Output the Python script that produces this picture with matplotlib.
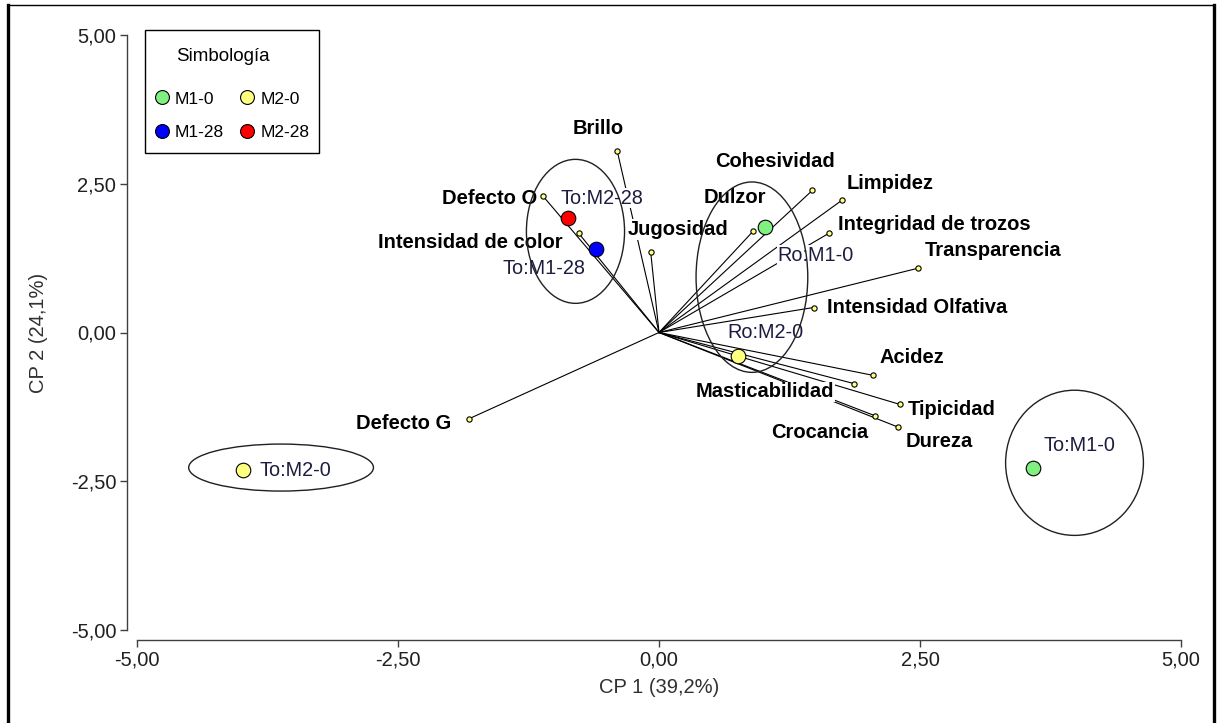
import matplotlib
matplotlib.use("Agg")
import matplotlib.pyplot as plt
from matplotlib.patches import Ellipse, Rectangle
from matplotlib.lines import Line2D
from matplotlib.ticker import FuncFormatter, FixedLocator

plt.rcParams['font.family'] = ['Liberation Sans', 'DejaVu Sans']

# Loadings of the sensory attributes (CP1, CP2)
variables = ["Brillo", "Defecto O", "Intensidad de color", "Jugosidad", "Cohesividad",
             "Limpidez", "Dulzor", "Integridad de trozos", "Transparencia",
             "Intensidad Olfativa", "Acidez", "Masticabilidad", "Tipicidad", "Dureza",
             "Crocancia", "Defecto G"]
var_cp1 = [-0.40, -1.11, -0.77, -0.08, 1.47, 1.75, 0.90, 1.63, 2.48, 1.48, 2.05, 1.87,
           2.31, 2.29, 2.07, -1.82]
var_cp2 = [3.05, 2.29, 1.67, 1.36, 2.39, 2.22, 1.70, 1.67, 1.08, 0.42, -0.72, -0.86,
           -1.21, -1.59, -1.40, -1.45]

# Sample scores
samples = ["To:M2-28", "To:M1-28", "Ro:M1-0", "Ro:M2-0", "To:M2-0", "To:M1-0"]
sample_group = ["M2-28", "M1-28", "M1-0", "M2-0", "M2-0", "M1-0"]
sample_cp1 = [-0.87, -0.60, 1.02, 0.76, -3.98, 3.58]
sample_cp2 = [1.92, 1.40, 1.77, -0.40, -2.31, -2.27]

# Grouping ellipses: centre, width, height
ell_cx = [-0.80, 0.89, -3.62, 3.98]
ell_cy = [1.70, 0.93, -2.27, -2.19]
ell_w = [0.94, 1.07, 1.77, 1.32]
ell_h = [2.42, 3.20, 0.79, 2.44]

groups = ["M1-0", "M2-0", "M1-28", "M2-28"]
group_colors = {"M1-0": "#80f080", "M2-0": "#ffff80", "M1-28": "#0000ff", "M2-28": "#ff0000"}

ticks = [-5.0, -2.5, 0.0, 2.5, 5.0]

# label placement (pixels from the point): ha, dx, dy
var_label_pos = [("center", -19, 23), ("right", -6, -2), ("right", -16, -9), ("left", -23, 22),
                 ("center", -37, 29), ("left", 5, 17), ("left", -49, 34), ("left", 9, 9),
                 ("left", 7, 18), ("left", 13, 0), ("left", 6, 18), ("right", -20, -8),
                 ("left", 8, -5), ("left", 8, -14), ("right", -7, -17), ("right", -18, -5)]
sample_label_pos = [("left", -8, 20), ("right", -11, -19), ("left", 12, -28),
                    ("left", -11, 24), ("left", 16, -1), ("left", 11, 22)]

W, H = 1220, 723
fig = plt.figure(figsize=(W / 100, H / 100), dpi=100)
ax = fig.add_axes([137 / W, 93 / H, 1044 / W, 595 / H])

# Attribute vectors
for name, x, y, (ha, dx, dy) in zip(variables, var_cp1, var_cp2, var_label_pos):
    ax.plot([0, x], [0, y], color="black", lw=0.8, zorder=1)
    ax.plot(x, y, "o", ms=3.8, mfc="#ffff80", mec="black", mew=0.8, zorder=5)
    ax.annotate(name, (x, y), xytext=(dx, dy), textcoords="offset pixels",
                ha=ha, va="center", fontsize=14.5, fontweight="bold", color="black",
                bbox=dict(facecolor="white", edgecolor="none", pad=0.5), zorder=2)

# Grouping ellipses
for cx, cy, w, h in zip(ell_cx, ell_cy, ell_w, ell_h):
    ax.add_patch(Ellipse((cx, cy), w, h, fill=False, edgecolor="#202020", lw=1.0, zorder=3))

# Sample points
for name, g, x, y, (ha, dx, dy) in zip(samples, sample_group, sample_cp1, sample_cp2,
                                       sample_label_pos):
    ax.plot(x, y, "o", ms=10.5, mfc=group_colors[g], mec="black", mew=0.8, zorder=6)
    ax.annotate(name, (x, y), xytext=(dx, dy), textcoords="offset pixels",
                ha=ha, va="center", fontsize=14.3, color="#1c1c40",
                bbox=dict(facecolor="white", edgecolor="none", pad=0.5), zorder=2)

ax.set_xlim(-5, 5)
ax.set_ylim(-5, 5)
fmt = FuncFormatter(lambda v, p: f"{v:.2f}".replace(".", ","))
ax.xaxis.set_major_locator(FixedLocator(ticks))
ax.yaxis.set_major_locator(FixedLocator(ticks))
ax.xaxis.set_major_formatter(fmt)
ax.yaxis.set_major_formatter(fmt)

for s in ["top", "right"]:
    ax.spines[s].set_visible(False)
for s in ["left", "bottom"]:
    ax.spines[s].set_position(("outward", 7))
    ax.spines[s].set_color("#404040")
    ax.spines[s].set_linewidth(1.0)
ax.tick_params(direction="out", length=5, width=1, color="#404040",
               labelsize=14.5, labelcolor="#202020", pad=3)

ax.set_xlabel("CP 1 (39,2%)", fontsize=14.5, color="#303030", labelpad=6)
ax.set_ylabel("CP 2 (24,1%)", fontsize=14.5, color="#303030", labelpad=16)

# Legend ("Simbología") inside its own box
fig.add_artist(Rectangle((145 / W, 1 - 153 / H), 174 / W, 123 / H, fill=False,
                         edgecolor="black", lw=1.0, transform=fig.transFigure, zorder=10))
handles = [Line2D([], [], ls="none", marker="o", ms=10, mfc=group_colors[g], mec="black",
                  mew=0.8, label=g) for g in ["M1-0", "M1-28", "M2-0", "M2-28"]]
leg = fig.legend(handles=handles, title="Simbología", ncol=2, loc="upper left",
                 bbox_to_anchor=(154 / W, 1 - 48 / H), borderaxespad=0, borderpad=0,
                 fontsize=12.5, title_fontsize=13.5, frameon=False,
                 handletextpad=0.3, columnspacing=0.9,
                 labelspacing=1.05, handlelength=0.9)
leg._legend_box.sep = 19
leg._legend_box.align = "left"
leg.get_title().set_position((22, 0))

# Outer frame lines (left, right, top)
fig.add_artist(Line2D([8 / W, 8 / W], [0, 1 - 5 / H], color="black", lw=2.4,
                      transform=fig.transFigure))
fig.add_artist(Line2D([1214 / W, 1214 / W], [0, 1 - 5 / H], color="black", lw=2.4,
                      transform=fig.transFigure))
fig.add_artist(Line2D([8 / W, 1214 / W], [1 - 5 / H, 1 - 5 / H], color="black", lw=1.0,
                      transform=fig.transFigure))

fig.savefig("out.png", dpi=100)
